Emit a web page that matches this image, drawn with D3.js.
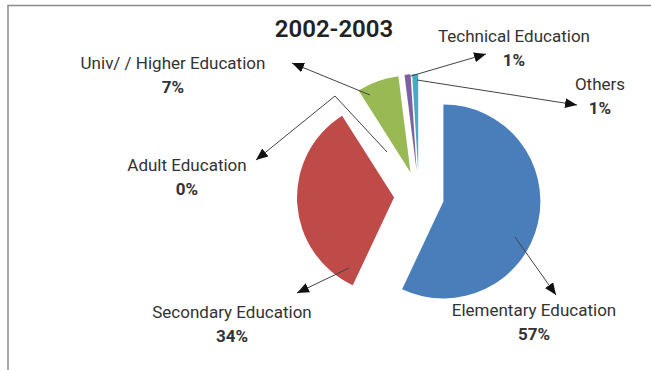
<!DOCTYPE html>
<html>
<head>
<meta charset="utf-8">
<script src="https://cdn.jsdelivr.net/npm/d3@7"></script>
<style>
  html, body { margin: 0; padding: 0; background: #fff; }
  svg { display: block; }
  text { font-family: Roboto, "Noto Sans", sans-serif; fill: #333; }
</style>
</head>
<body>
<svg id="chart" width="651" height="370"></svg>
<script>
// Spending shares by education sector, 2002-2003
const categories = ["Elementary Education", "Secondary Education", "Adult Education",
                    "Univ/ / Higher Education", "Technical Education", "Others"];
const shares = [57, 34, 0, 7, 1, 1];
const percentLabels = ["57%", "34%", "0%", "7%", "1%", "1%"];
const colors = ["#4a7ebb", "#be4b48", "#f79646", "#98b954", "#7d60a0", "#46aac5"];
const title = "2002-2003";

// Callout layout: label centre, label baseline, and the leader path (arrow ends at the last point)
const callouts = [
  { x: 534, y: 316, path: [[515, 237], [556, 295]] },
  { x: 232, y: 318, path: [[349, 268], [297, 293]] },
  { x: 187, y: 171, path: [[387, 152], [335, 96], [256, 160]] },
  { x: 173, y: 69,  path: [[370, 95], [292, 63]] },
  { x: 514, y: 42,  path: [[411, 76], [486, 54]] },
  { x: 600, y: 90,  path: [[417, 80], [577, 105]] }
];

const svg = d3.select("#chart");

// frame
svg.append("path")
  .attr("d", "M8,370 V5.5 H651")
  .attr("fill", "none")
  .attr("stroke", "#8a8a8a")
  .attr("stroke-width", 1.5);

// title
svg.append("text")
  .attr("x", 334).attr("y", 37)
  .attr("text-anchor", "middle")
  .style("font-size", "24px")
  .style("font-weight", "600")
  .style("fill", "#222")
  .text(title);

// exploded pie
const cx = 419, cy = 196, radius = 97, explode = 25;
const pie = d3.pie().sort(null).value(d => d)
  .startAngle(0).endAngle(2 * Math.PI);
const arc = d3.arc().innerRadius(0).outerRadius(radius);
const arcs = pie(shares);

svg.append("g")
  .attr("transform", `translate(${cx},${cy})`)
  .selectAll("path")
  .data(arcs)
  .join("path")
  .attr("d", arc)
  .attr("fill", (d, i) => colors[i])
  .attr("transform", d => {
    const mid = (d.startAngle + d.endAngle) / 2;
    return `translate(${explode * Math.sin(mid)},${-explode * Math.cos(mid)})`;
  });

// arrowhead marker
svg.append("defs").append("marker")
  .attr("id", "arrow")
  .attr("viewBox", "0 0 12 10")
  .attr("refX", 12).attr("refY", 5)
  .attr("markerWidth", 12).attr("markerHeight", 10)
  .attr("markerUnits", "userSpaceOnUse")
  .attr("orient", "auto")
  .append("path")
  .attr("d", "M0,0 L12,5 L0,10 Z")
  .attr("fill", "#111");

const line = d3.line();
const g = svg.append("g");
g.selectAll("path.leader")
  .data(callouts)
  .join("path")
  .attr("class", "leader")
  .attr("d", d => line(d.path))
  .attr("fill", "none")
  .attr("stroke", "#444")
  .attr("stroke-width", 1)
  .attr("marker-end", "url(#arrow)");

// labels
const labels = svg.append("g").selectAll("g")
  .data(categories)
  .join("g");
labels.append("text")
  .attr("x", (d, i) => callouts[i].x)
  .attr("y", (d, i) => callouts[i].y)
  .attr("text-anchor", "middle")
  .style("font-size", "17px")
  .text(d => d);
labels.append("text")
  .attr("x", (d, i) => callouts[i].x)
  .attr("y", (d, i) => callouts[i].y + 24)
  .attr("text-anchor", "middle")
  .style("font-size", "17px")
  .style("font-weight", "bold")
  .text((d, i) => percentLabels[i]);
</script>
</body>
</html>
